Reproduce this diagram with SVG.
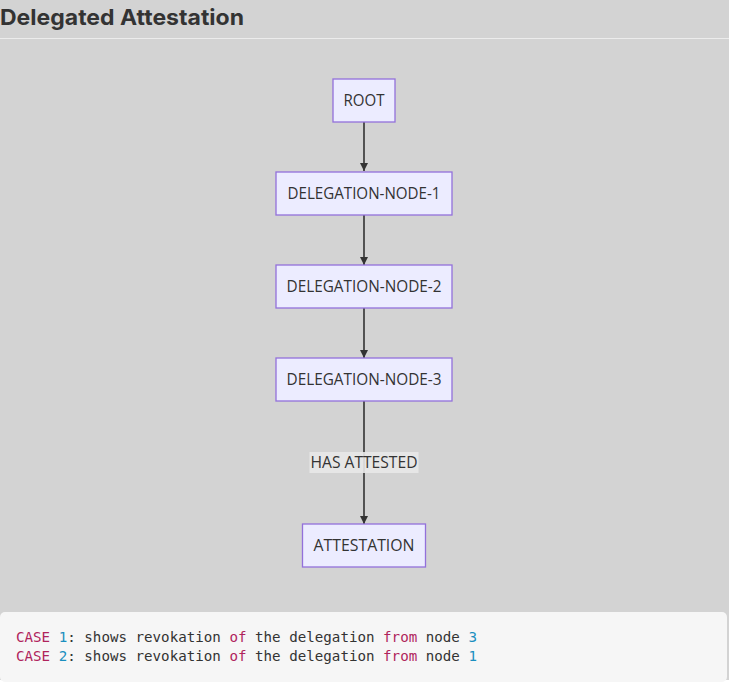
<svg xmlns="http://www.w3.org/2000/svg" width="729" height="685" viewBox="0 0 729 685">
<style>
.node rect{fill:#ececff;stroke:#9370db;stroke-width:1.3}
.node text{font-family:"Open Sans","DejaVu Sans",sans-serif;font-size:15.5px;fill:#333;text-anchor:middle}
.edge{stroke:#333;stroke-width:1.6;fill:none}
.code{font-family:"DejaVu Sans Mono","Liberation Mono",monospace;font-size:13.5px;fill:#333}
.kw{fill:#b0245c}
.num{fill:#1a8fbf}
</style>
<defs>
<marker id="arr" viewBox="0 0 10 10" refX="10" refY="5" markerWidth="8" markerHeight="8" markerUnits="userSpaceOnUse" orient="auto">
<path d="M0,0 L10,5 L0,10 z" fill="#333"/>
</marker>
</defs>
<rect x="0" y="0" width="729" height="685" fill="#d3d3d3"/>
<text x="0" y="25" font-family="Inter,'Liberation Sans',sans-serif" font-weight="bold" font-size="22" fill="#333" textLength="244" lengthAdjust="spacingAndGlyphs">Delegated Attestation</text>
<line x1="0" y1="38.5" x2="729" y2="38.5" stroke="#ececec" stroke-width="1"/>
<g id="connectors">
<line class="edge" x1="364" y1="122" x2="364" y2="171" marker-end="url(#arr)"/>
<line class="edge" x1="364" y1="215" x2="364" y2="265" marker-end="url(#arr)"/>
<line class="edge" x1="364" y1="308" x2="364" y2="358" marker-end="url(#arr)"/>
<line class="edge" x1="364" y1="401" x2="364" y2="524" marker-end="url(#arr)"/>
<g id="edge-label">
<rect x="309.5" y="452" width="109" height="21" fill="#e8e8e8" opacity="0.9"/>
<text x="364" y="468" font-family="'Open Sans','DejaVu Sans',sans-serif" font-size="15.5" fill="#333" text-anchor="middle" textLength="107" lengthAdjust="spacingAndGlyphs">HAS ATTESTED</text>
</g>
</g>
<g id="root" class="node">
<rect x="333" y="79" width="62" height="43"/>
<text x="364" y="106" textLength="41" lengthAdjust="spacingAndGlyphs">ROOT</text>
</g>
<g id="dn1" class="node">
<rect x="276" y="172" width="176" height="43"/>
<text x="364" y="199" textLength="153" lengthAdjust="spacingAndGlyphs">DELEGATION-NODE-1</text>
</g>
<g id="dn2" class="node">
<rect x="276" y="265" width="176" height="43"/>
<text x="364" y="292" textLength="155" lengthAdjust="spacingAndGlyphs">DELEGATION-NODE-2</text>
</g>
<g id="dn3" class="node">
<rect x="276" y="358" width="176" height="43"/>
<text x="364" y="385" textLength="155" lengthAdjust="spacingAndGlyphs">DELEGATION-NODE-3</text>
</g>
<g id="attestation" class="node">
<rect x="302.5" y="524" width="123" height="43"/>
<text x="364" y="551" textLength="101" lengthAdjust="spacingAndGlyphs">ATTESTATION</text>
</g>
<rect x="0" y="680" width="729" height="5" fill="#ffffff"/>
<g id="code">
<rect x="0" y="612" width="727" height="70" rx="5" fill="#f6f6f6"/>
<text class="code" x="16" y="641.5" textLength="461" lengthAdjust="spacingAndGlyphs"><tspan class="kw">CASE</tspan> <tspan class="num">1</tspan>: shows revokation <tspan class="kw">of</tspan> the delegation <tspan class="kw">from</tspan> node <tspan class="num">3</tspan></text>
<text class="code" x="16" y="661" textLength="461" lengthAdjust="spacingAndGlyphs"><tspan class="kw">CASE</tspan> <tspan class="num">2</tspan>: shows revokation <tspan class="kw">of</tspan> the delegation <tspan class="kw">from</tspan> node <tspan class="num">1</tspan></text>
</g>
</svg>
